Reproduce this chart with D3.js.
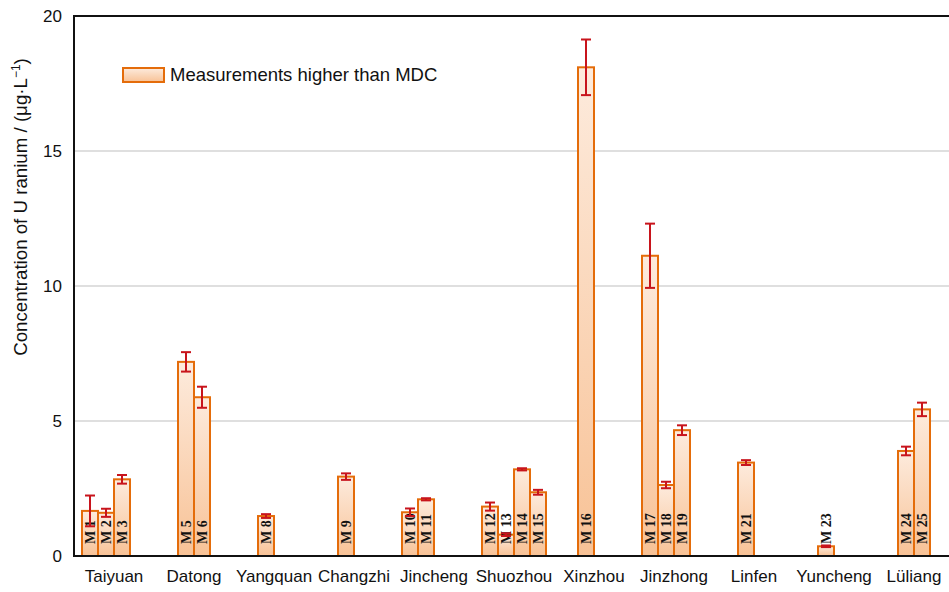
<!DOCTYPE html>
<html>
<head>
<meta charset="utf-8">
<script src="https://cdn.jsdelivr.net/npm/d3@7"></script>
<style>
  html, body { margin: 0; padding: 0; background: #fff; }
  svg { display: block; }
</style>
</head>
<body>
<svg id="chart" width="949" height="592"></svg>
<script>
// Sampling regions along the category axis
const cities = ["Taiyuan", "Datong", "Yangquan", "Changzhi", "Jincheng", "Shuozhou",
                "Xinzhou", "Jinzhong", "Linfen", "Yuncheng", "Lüliang"];

// Samples with measurements above the MDC
const samples = ["M 1", "M 2", "M 3", "M 5", "M 6", "M 8", "M 9", "M 10", "M 11", "M 12",
                 "M 13", "M 14", "M 15", "M 16", "M 17", "M 18", "M 19", "M 21", "M 23",
                 "M 24", "M 25"];
const sampleCity = ["Taiyuan", "Taiyuan", "Taiyuan", "Datong", "Datong", "Yangquan", "Changzhi",
                    "Jincheng", "Jincheng", "Shuozhou", "Shuozhou", "Shuozhou", "Shuozhou",
                    "Xinzhou", "Jinzhong", "Jinzhong", "Jinzhong", "Linfen", "Yuncheng",
                    "Lüliang", "Lüliang"];
// column of each sample inside its region's block of five
const sampleColumn = [0, 1, 2, 1, 2, 1, 1, 0, 1, 0, 1, 2, 3, 1, 0, 1, 2, 1, 1, 1, 2];
// uranium concentration (µg/L) and its uncertainty
const concentration = [1.67, 1.60, 2.84, 7.19, 5.88, 1.48, 2.94, 1.62, 2.10, 1.83,
                       0.79, 3.21, 2.36, 18.10, 11.12, 2.63, 4.66, 3.46, 0.36, 3.89, 5.43];
const uncertainty = [0.57, 0.15, 0.16, 0.36, 0.39, 0.07, 0.12, 0.14, 0.04, 0.15,
                     0.05, 0.04, 0.09, 1.03, 1.19, 0.12, 0.18, 0.09, 0.03, 0.16, 0.25];

const yTicks = [0, 5, 10, 15, 20];
const legendLabel = "Measurements higher than MDC";

const svg = d3.select("#chart");
const plot = { left: 74, right: 954, top: 16, bottom: 556 };

const x = d3.scaleBand().domain(cities).range([plot.left, plot.right]).padding(0);
const col = d3.scaleBand().domain(d3.range(5)).range([0, x.bandwidth()]).padding(0);
const y = d3.scaleLinear().domain([0, 20]).range([plot.bottom, plot.top]);

const orange = "#e46c0a";
const red = "#c8141c";

// gradient fill for bars
const defs = svg.append("defs");
const grad = defs.append("linearGradient").attr("id", "barFill")
  .attr("x1", 0).attr("y1", 0).attr("x2", 0).attr("y2", 1);
grad.append("stop").attr("offset", "0%").attr("stop-color", "#fdebdd");
grad.append("stop").attr("offset", "100%").attr("stop-color", "#f8c296");

// horizontal gridlines
svg.append("g").selectAll("line")
  .data(yTicks.filter(t => t > 0 && t < 20))
  .join("line")
  .attr("x1", plot.left).attr("x2", plot.right)
  .attr("y1", d => y(d)).attr("y2", d => y(d))
  .attr("stroke", "#d4d4d4").attr("stroke-width", 1.5);

const rows = samples.map((s, i) => ({
  id: s, city: sampleCity[i], column: sampleColumn[i],
  value: concentration[i], err: uncertainty[i]
}));
const barX = d => x(d.city) + col(d.column) + col.bandwidth() / 2;
const bw = col.bandwidth();

// bars
svg.append("g").selectAll("rect")
  .data(rows)
  .join("rect")
  .attr("x", d => barX(d))
  .attr("y", d => y(d.value))
  .attr("width", bw)
  .attr("height", d => y(0) - y(d.value))
  .attr("fill", "url(#barFill)")
  .attr("stroke", orange)
  .attr("stroke-width", 2);

// sample labels, written upward from the base of each bar
svg.append("g").selectAll("text")
  .data(rows)
  .join("text")
  .attr("transform", d => `translate(${barX(d) + bw / 2 + 0.5},${y(0) - 12}) rotate(-90)`)
  .attr("dominant-baseline", "central")
  .attr("text-anchor", "start")
  .attr("font-family", "'Liberation Serif', 'Times New Roman', serif")
  .attr("font-weight", "bold")
  .attr("font-size", 14)
  .attr("fill", "#111")
  .text(d => d.id);

// error bars
const eb = svg.append("g").attr("stroke", red).attr("stroke-width", 2).attr("fill", "none");
const cap = 5;
rows.forEach(d => {
  const cx = barX(d) + bw / 2;
  const yHi = y(d.value + d.err), yLo = y(d.value - d.err);
  eb.append("line").attr("x1", cx).attr("x2", cx).attr("y1", yHi).attr("y2", yLo);
  eb.append("line").attr("x1", cx - cap).attr("x2", cx + cap).attr("y1", yHi).attr("y2", yHi);
  eb.append("line").attr("x1", cx - cap).attr("x2", cx + cap).attr("y1", yLo).attr("y2", yLo);
});

// plot frame
svg.append("rect")
  .attr("x", plot.left).attr("y", plot.top)
  .attr("width", plot.right - plot.left).attr("height", plot.bottom - plot.top)
  .attr("fill", "none").attr("stroke", "#111").attr("stroke-width", 2);

// y axis labels
const yAxis = d3.axisLeft(y).tickValues(yTicks).tickSize(0).tickPadding(12).tickFormat(d3.format("d"));
const yg = svg.append("g").attr("transform", `translate(${plot.left},0)`).call(yAxis);
yg.select(".domain").remove();
yg.selectAll("text")
  .attr("font-family", "'Liberation Sans', Arial, sans-serif")
  .attr("font-size", 17).attr("fill", "#111");

// x axis labels
const xAxis = d3.axisBottom(x).tickSize(0).tickPadding(14);
const xg = svg.append("g").attr("transform", `translate(0,${plot.bottom})`).call(xAxis);
xg.select(".domain").remove();
xg.selectAll("text")
  .attr("font-family", "'Liberation Sans', Arial, sans-serif")
  .attr("font-size", 17).attr("fill", "#111");

// y axis title
const title = svg.append("text")
  .attr("transform", `translate(27,207) rotate(-90)`)
  .attr("text-anchor", "middle")
  .attr("font-family", "'Liberation Sans', Arial, sans-serif")
  .attr("font-size", 18.7)
  .attr("fill", "#111");
title.append("tspan").text("Concentration of U ranium / (μg·L");
title.append("tspan").attr("dy", -7).attr("font-size", 12).text("−1");
title.append("tspan").attr("dy", 7).text(")");

// legend
const lg = svg.append("g").attr("transform", "translate(123,68)");
lg.append("rect").attr("width", 41).attr("height", 14)
  .attr("fill", "url(#barFill)").attr("stroke", orange).attr("stroke-width", 2);
lg.append("text").attr("x", 47).attr("y", 13)
  .attr("font-family", "'Liberation Sans', Arial, sans-serif")
  .attr("font-size", 18.5).attr("fill", "#111")
  .text(legendLabel);
</script>
</body>
</html>
